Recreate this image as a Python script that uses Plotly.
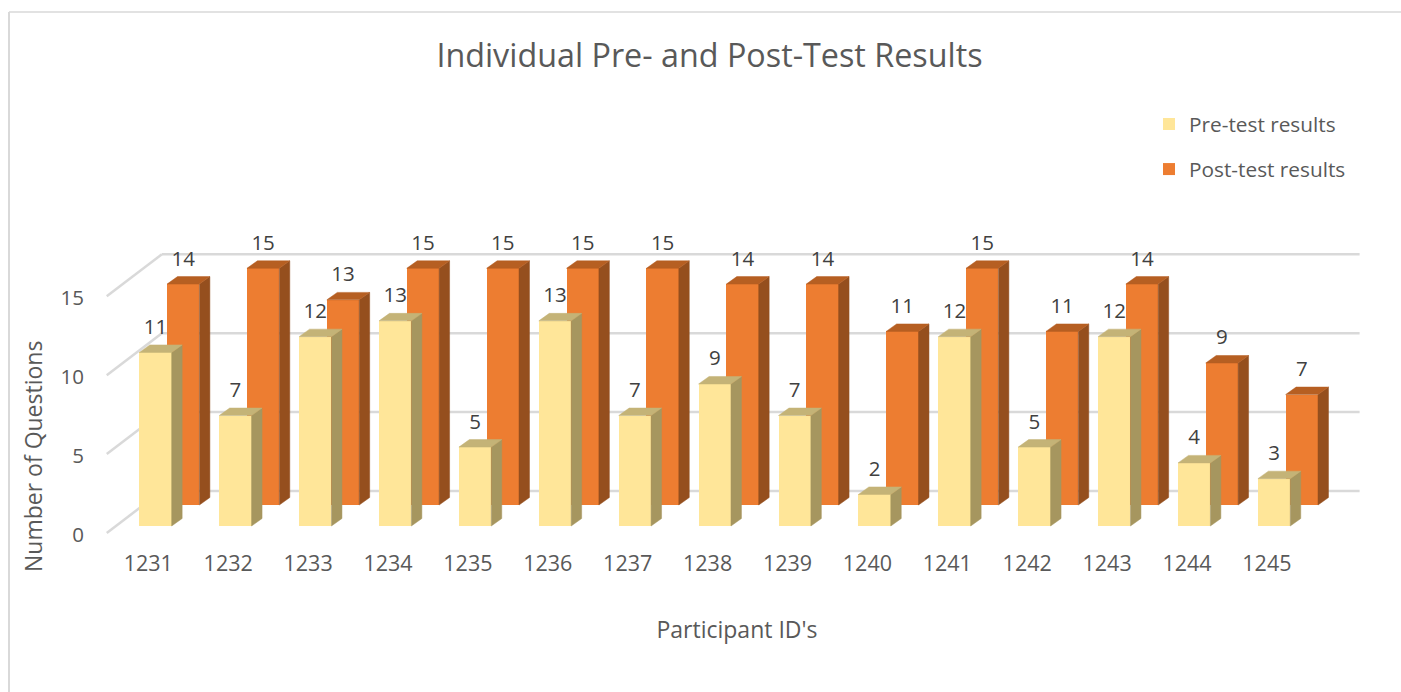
import plotly.graph_objects as go

participant_ids = [1231, 1232, 1233, 1234, 1235, 1236, 1237, 1238, 1239, 1240, 1241, 1242, 1243, 1244, 1245]
pre_test = [11, 7, 12, 13, 5, 13, 7, 9, 7, 2, 12, 5, 12, 4, 3]
post_test = [14, 15, 13, 15, 15, 15, 15, 14, 14, 11, 15, 11, 14, 9, 7]
y_ticks = [0, 5, 10, 15]

# 3D look, in axis units
BAR_W = 0.405
DX, DY = 0.131, 0.475          # depth of one bar
POST_DX, POST_DY = 0.347, 1.33 # second row offset
WALL_DY = 2.22                 # back wall
FLOOR_DY = -0.44               # front edge of the side wall
PRE = ("#FFE699", "#A6965F", "#C4B377")
POST = ("#ED7D31", "#954F1E", "#B65F22")
GRID = "#D9D9D9"
W, H = 1401, 692
L, R, T, B = 100, 1374, 200, 548
PX_X, PX_Y = 79.9, 15.78
x0_px, y0_px = 155.5, 526
x_range = [(L - x0_px) / PX_X, (R - x0_px) / PX_X]
y_range = [(y0_px - B) / PX_Y, (y0_px - T) / PX_Y]
xs = list(range(len(participant_ids)))


def pap_x(px):
    return (px - L) / (R - L)


def pap_y(py):
    return (B - py) / (B - T)


def faces(centers, bases, values):
    side_x, side_y, top_x, top_y = [], [], [], []
    for c, b, v in zip(centers, bases, values):
        l, r = c - BAR_W / 2, c + BAR_W / 2
        t = b + v
        side_x += [r, r + DX, r + DX, r, r, None]
        side_y += [b, b + DY, t + DY, t, b, None]
        top_x += [l, l + DX, r + DX, r, l, None]
        top_y += [t, t + DY, t + DY, t, t, None]
    return side_x, side_y, top_x, top_y


def poly(x, y, color):
    return go.Scatter(x=x, y=y, mode="lines", fill="toself", fillcolor=color,
                      line=dict(color=color, width=0.5), hoverinfo="skip", showlegend=False)


fig = go.Figure()

post_x = [i + POST_DX for i in xs]
post_base = [POST_DY] * len(xs)
pre_base = [0] * len(xs)

fig.add_trace(go.Bar(x=post_x, y=post_test, base=post_base, width=BAR_W, name="Post-test results",
                     marker=dict(color=POST[0], line=dict(width=0)), legendgroup="post", legendrank=2))
fig.add_trace(go.Bar(x=xs, y=pre_test, base=pre_base, width=BAR_W, name="Pre-test results",
                     marker=dict(color=PRE[0], line=dict(width=0)), legendgroup="pre", legendrank=1))

sx, sy, tx, ty = faces(post_x, post_base, post_test)
fig.add_trace(poly(sx, sy, POST[1]))
fig.add_trace(poly(tx, ty, POST[2]))
sx, sy, tx, ty = faces(xs, pre_base, pre_test)
fig.add_trace(poly(sx, sy, PRE[1]))
fig.add_trace(poly(tx, ty, PRE[2]))

label_font = dict(family="Open Sans", size=20.5, color="#404040")
fig.add_trace(go.Scatter(x=post_x, y=[v + POST_DY + 1.5 for v in post_test], text=[str(v) for v in post_test],
                         mode="text", textfont=label_font, hoverinfo="skip", showlegend=False))
fig.add_trace(go.Scatter(x=xs, y=[v + 1.5 for v in pre_test], text=[str(v) for v in pre_test],
                         mode="text", textfont=label_font, hoverinfo="skip", showlegend=False))

grid_line = dict(color=GRID, width=2.5)
shapes = [
    dict(type="line", xref="paper", yref="paper", x0=pap_x(9), x1=pap_x(9), y0=pap_y(H), y1=pap_y(12),
         line=dict(color=GRID, width=2), layer="below"),
    dict(type="line", xref="paper", yref="paper", x0=pap_x(9), x1=pap_x(W), y0=pap_y(12), y1=pap_y(12),
         line=dict(color=GRID, width=1.5), layer="below"),
]
for t in y_ticks:
    shapes.append(dict(type="line", xref="x", yref="y", x0=-0.61, x1=0.08, y0=t + FLOOR_DY, y1=t + WALL_DY,
                       line=grid_line, layer="below"))
    shapes.append(dict(type="line", xref="x", yref="y", x0=0.08, x1=15.07, y0=t + WALL_DY, y1=t + WALL_DY,
                       line=grid_line, layer="below"))

fig.update_layout(
    width=W, height=H, autosize=False,
    margin=dict(l=L, r=W - R, t=T, b=H - B, pad=0),
    paper_bgcolor="white", plot_bgcolor="white",
    barmode="overlay", bargap=0,
    font=dict(family="Open Sans", color="#595959"),
    title=dict(text="Individual Pre- and Post-Test Results", x=709.5 / W, xanchor="center",
               y=1 - 56 / H, yanchor="middle", font=dict(family="Open Sans", size=32.3, color="#595959")),
    legend=dict(x=pap_x(1149), y=pap_y(104), xanchor="left", yanchor="top",
                traceorder="grouped", tracegroupgap=15,
                font=dict(family="Open Sans", size=20.8, color="#595959"),
                bgcolor="rgba(0,0,0,0)", itemclick=False, itemdoubleclick=False),
    xaxis=dict(range=x_range, tickmode="array", tickvals=[i - 0.09 for i in xs],
               ticktext=[str(p) for p in participant_ids], showgrid=False, zeroline=False,
               showline=False, ticks="", tickfont=dict(family="Open Sans", size=21.5, color="#595959"),
               title=dict(text="Participant ID's", font=dict(family="Open Sans", size=23, color="#595959"), standoff=46)),
    yaxis=dict(range=y_range, tickmode="array", tickvals=[t - 0.57 for t in y_ticks],
               ticktext=[str(t) for t in y_ticks], showgrid=False, zeroline=False,
               showline=False, ticks="", ticklabelstandoff=15,
               tickfont=dict(family="Open Sans", size=20.5, color="#595959")),
    annotations=[dict(text="Number of Questions", xref="paper", yref="paper", x=pap_x(33), y=pap_y(457),
                      xanchor="center", yanchor="middle", showarrow=False, textangle=-90,
                      font=dict(family="Open Sans", size=23, color="#595959"))],
    shapes=shapes,
)
fig.write_html("out.html", post_script="document.body.style.margin='0';",
               config=dict(displayModeBar=False))
